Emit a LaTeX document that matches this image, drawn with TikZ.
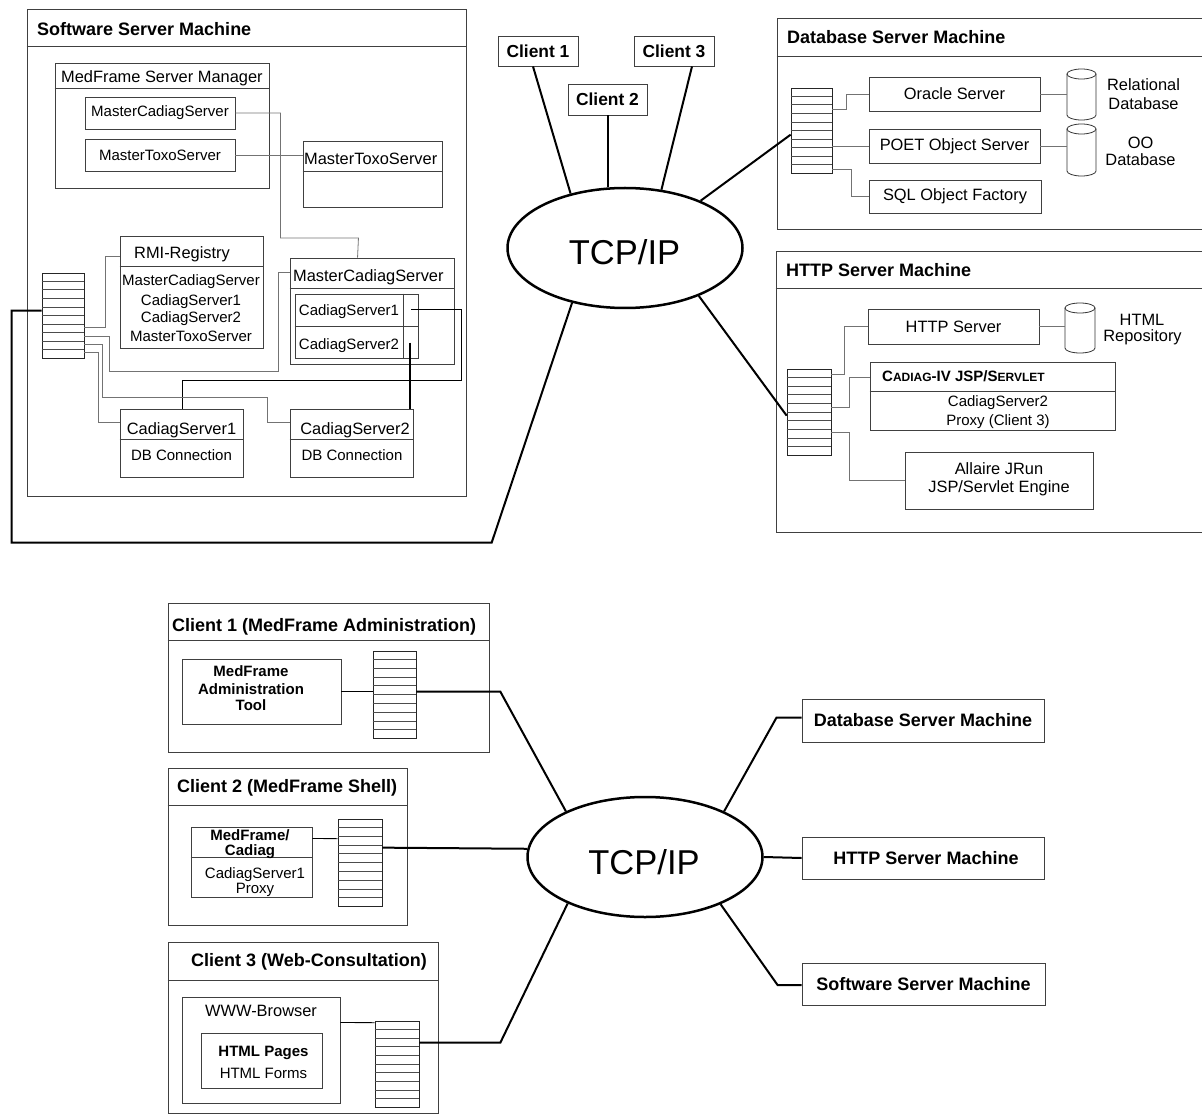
\documentclass[tikz,border=0pt]{standalone}
\usepackage{fontspec}
\setmainfont{Liberation Sans}
\usetikzlibrary{fit,calc,shapes.geometric}
\tikzset{
 bx/.style={draw=black!75, line width=0.9pt, inner sep=0pt},
 bxline/.style={draw=black!75, line width=0.9pt},
 conn/.style={draw=black!55, line width=0.8pt},
 bconn/.style={draw=black, line width=0.8pt},
 thk/.style={draw=black, line width=2pt},
 stkline/.style={draw=black!70, line width=0.6pt},
 cylst/.style={draw=black!80, line width=0.8pt},
 hd/.style={font=\fontsize{18pt}{21pt}\selectfont\bfseries, inner sep=0pt},
 hdc/.style={font=\fontsize{17.4pt}{20pt}\selectfont\bfseries, inner sep=0pt},
 tA/.style={font=\fontsize{16.4pt}{19pt}\selectfont, inner sep=0pt},
 tB/.style={font=\fontsize{15pt}{17.5pt}\selectfont, inner sep=0pt},
 tBb/.style={font=\fontsize{15pt}{17.5pt}\selectfont\bfseries, inner sep=0pt},
 tcpst/.style={draw=black, ellipse, line width=2.5pt, minimum width=235pt, minimum height=120pt, inner sep=0pt},
 tcpfont/.style={font=\fontsize{34.5pt}{40pt}\selectfont, inner sep=0pt},
}
\newcommand\mybox[5][]{\node[bx,fit={#3 #4}] (#2) {};
 \node[inner sep=0pt,#1] (#2-t) at (#2.center) {#5};}
\newcommand\mysep[2]{\draw[bxline] ($(#1.north west)+(0,#2)$) -- ($(#1.north east)+(0,#2)$);}
\newcommand\mystack[3]{%
 \node[bx, draw=black!85, line width=0.7pt, fit={#2 #3}] (#1) {};
 \foreach \nn in {1,...,9}{\draw[stkline] ($(#1.north west)!\nn/10!(#1.south west)$) -- ($(#1.north east)!\nn/10!(#1.south east)$);}
}
\newcommand\mycyl[4]{% x1 x2 ytop ybot
 \draw[cylst] (#1,#3) -- (#1,#4) arc[start angle=180,end angle=360,x radius={(#2-#1)/2*1pt},y radius=5pt] -- (#2,#3);
 \draw[cylst] ({(#1+#2)/2},#3) ellipse[x radius={(#2-#1)/2*1pt},y radius=5pt];
}
\begin{document}
\begin{tikzpicture}[x=1pt,y=-1pt]
\useasboundingbox (0,0) rectangle (1202,1115);

% ================= Software Server Machine =================
\mybox{ssm}{(27,9)}{(466,496)}{}
\mysep{ssm}{38}
\node[hd,anchor=base west] (ssmT) at (37,36) {Software Server Machine};

\mybox{mfsm}{(55,63)}{(269,188)}{}
\mysep{mfsm}{26}
\node[tA,anchor=base west] (mfsmT) at (61,83) {MedFrame Server Manager};
\mybox[tB]{mcsA}{(85,97)}{(235,129)}{MasterCadiagServer}
\mybox[tB]{mtsA}{(85,139)}{(235,171)}{MasterToxoServer}

\mybox{mtsB}{(303,141)}{(442,207)}{}
\mysep{mtsB}{31}
\node[tA,anchor=base west] (mtsBT) at (304,165) {MasterToxoServer};

\mybox{rmi}{(120,236)}{(263,348)}{}
\mysep{rmi}{31}
\node[tA,anchor=base west] (rmiT) at (134,259) {RMI-Registry};
\node[tB,anchor=base] (rmi1) at (191,285.5) {MasterCadiagServer};
\node[tB,anchor=base] (rmi2) at (191,305.5) {CadiagServer1};
\node[tB,anchor=base] (rmi3) at (191,323) {CadiagServer2};
\node[tB,anchor=base] (rmi4) at (191,341.5) {MasterToxoServer};

\mybox{mcb}{(290,258)}{(454,364)}{}
\mysep{mcb}{31}
\node[tA,anchor=base west] (mcbT) at (293,281.5) {MasterCadiagServer};
\mybox{csi}{(295,294)}{(418,358)}{}
\mysep{csi}{33}
\draw[bxline] ($(csi.north east)+(-15,0)$) -- ($(csi.south east)+(-15,0)$);
\node[tB,anchor=base] (csi1) at (349,316) {CadiagServer1};
\node[tB,anchor=base] (csi2) at (349,349) {CadiagServer2};

\mybox{cs1b}{(120,409)}{(243,477)}{}
\mysep{cs1b}{31}
\node[tA,anchor=base] (cs1bT) at (181.5,434.3) {CadiagServer1};
\node[tB,anchor=base] (cs1bD) at (181.5,460.7) {DB Connection};
\mybox{cs2b}{(290,409)}{(413,477)}{}
\mysep{cs2b}{31}
\node[tA,anchor=base] (cs2bT) at (355,434.3) {CadiagServer2};
\node[tB,anchor=base] (cs2bD) at (352,460.7) {DB Connection};

\mystack{ssmstk}{(42,273)}{(84,358)}

\draw[conn] (mcsA.east) -- ++(45,0) -- ++(0,125) -- ++(78,0) -- ($(mcb.north west)+(68,0)$);
\draw[conn] (mtsA.east) -- (mtsA.east -| mtsB.west);
\draw[bconn] ($(csi.north east)+(-7,16)$) -- ++(50,0) -- ++(0,71) -| ($(cs1b.north west)+(63,0)$);
\draw[thk] ($(csi.north east)+(-8,49)$) -- ($(cs2b.north east)+(-3,0)$);
\draw[conn] ($(ssmstk.north east)+(0,55)$) -- ++(21,0) |- ($(rmi.north west)+(0,21)$);
\draw[conn] ($(ssmstk.north east)+(0,64)$) -- ++(25,0) -- ++(0,35) -- ++(169,0) |- ($(mcb.north west)+(0,15)$);
\draw[conn] ($(ssmstk.north east)+(0,72)$) -- ++(18,0) -- ++(0,53) -- ++(165,0) |- ($(cs2b.north west)+(0,14)$);
\draw[conn] ($(ssmstk.north east)+(0,80)$) -- ++(14,0) |- ($(cs1b.north west)+(0,14)$);

% ================= TCP/IP top =================
\node[tcpst] (tcp1) at (625,248) {};
\node[tcpfont,anchor=base] (tcp1T) at (624.5,265) {TCP/IP};
\mybox[hdc]{cA}{(498,36)}{(578,66)}{Client 1}
\mybox[hdc]{cB}{(568,84)}{(647,115)}{Client 2}
\mybox[hdc]{cC}{(634,36)}{(714,66)}{Client 3}
\draw[thk] ($(cA.south)+(-5,0)$) -- (tcp1.135);
\draw[thk] (cB.south) -- (cB.south |- tcp1.north);
\draw[thk] ($(cC.south)+(18,0)$) -- (tcp1.58);
\draw[thk] ($(ssmstk.north west)+(0,38)$) -- ++(-30,0) -- ++(0,232) -- ++(480,0) -- (tcp1.226);

% ================= Database Server Machine =================
\mybox{dbm}{(777,18)}{(1202,229)}{}
\mysep{dbm}{39}
\node[hd,anchor=base west] (dbmT) at (787,43.3) {Database Server Machine};
\mystack{dbstk}{(791,88)}{(832,173)}
\mybox[tA]{ora}{(869,77)}{(1040,111)}{Oracle Server}
\mybox[tA]{poet}{(869,129)}{(1040,163)}{POET Object Server}
\mybox[tA]{sqlf}{(869,180)}{(1041,213)}{SQL Object Factory}
\draw[conn] ($(dbstk.north east)+(0,22)$) -- ++(14,0) |- (ora.west);
\draw[conn] (poet.west -| dbstk.east) -- (poet.west);
\draw[conn] ($(dbstk.north east)+(0,82)$) -- ++(19,0) |- (sqlf.west);
\mycyl{1067}{1096}{74}{115}
\coordinate (relL) at (1067,94);
\mycyl{1067}{1096}{129}{171}
\coordinate (ooL) at (1067,146);
\draw[conn] (ora.east) -- (relL);
\draw[conn] (poet.east) -- (ooL);
\node[tA,anchor=base] (relT1) at (1143.5,90.7) {Relational};
\node[tA,anchor=base] (relT2) at (1143.5,109.3) {Database};
\node[tA,anchor=base] (ooT1) at (1140.5,148.3) {OO};
\node[tA,anchor=base] (ooT2) at (1140.5,166) {Database};
\draw[thk] (tcp1.32) -- ($(dbstk.north west)+(0,47)$);

% ================= HTTP Server Machine =================
\mybox{htm}{(776,251)}{(1202,532)}{}
\mysep{htm}{38}
\node[hd,anchor=base west] (htmT) at (786,276.7) {HTTP Server Machine};
\mystack{httpstk}{(787,369)}{(831,455)}
\mybox[tA]{hsv}{(868,309)}{(1039,344)}{HTTP Server}
\mycyl{1065}{1095}{308}{348}
\coordinate (repL) at (1065,326.5);
\draw[conn] (hsv.east) -- (repL);
\node[tA,anchor=base] (repT1) at (1142,325) {HTML};
\node[tA,anchor=base] (repT2) at (1142.5,341.7) {Repository};
\mybox{cad}{(870,362)}{(1115,430)}{}
\mysep{cad}{30}
\node[anchor=base west,inner sep=0pt,font=\fontsize{15pt}{18pt}\selectfont\bfseries] (cadT) at (882,381)
 {C{\fontsize{12pt}{14pt}\selectfont ADIAG}-IV JSP/S{\fontsize{12pt}{14pt}\selectfont ERVLET}};
\node[tB,anchor=base] (cad1) at (998,406.7) {CadiagServer2};
\node[tB,anchor=base] (cad2) at (998,425) {Proxy (Client 3)};
\mybox{alr}{(905,452)}{(1093,509)}{}
\node[tA,anchor=base] (alr1) at (999,474) {Allaire JRun};
\node[tA,anchor=base] (alr2) at (999,492.3) {JSP/Servlet Engine};
\draw[conn] ($(httpstk.north east)+(0,6)$) -- ++(13,0) |- (hsv.west);
\draw[conn] ($(httpstk.north east)+(0,39)$) -- ++(18,0) |- ($(cad.north west)+(0,16)$);
\draw[conn] ($(httpstk.north east)+(0,64)$) -- ++(18,0) |- (alr.west);
\draw[thk] (tcp1.-33) -- ($(httpstk.north west)+(0,47)$);

% ================= Bottom: clients =================
\mybox{cl1}{(168,603)}{(489,752)}{}
\mysep{cl1}{38}
\node[hd,anchor=base west] (cl1T) at (172,631.7) {Client 1 (MedFrame Administration)};
\mybox{tool}{(182,659)}{(341,724)}{}
\node[tBb,anchor=base] (tool1) at (251,676) {MedFrame};
\node[tBb,anchor=base] (tool2) at (251,694) {Administration};
\node[tBb,anchor=base] (tool3) at (251,710.5) {Tool};
\mystack{cl1stk}{(373,651)}{(416,738)}
\draw[bconn] (tool.east) -- (tool.east -| cl1stk.west);

\mybox{cl2}{(168,768)}{(407,925)}{}
\mysep{cl2}{38}
\node[hd,anchor=base west] (cl2T) at (177,792.7) {Client 2 (MedFrame Shell)};
\mybox{mfc}{(191,827)}{(312,897)}{}
\mysep{mfc}{31}
\node[tBb,anchor=base] (mfc1) at (250,840) {MedFrame/};
\node[tBb,anchor=base] (mfc2) at (250,855.5) {Cadiag};
\node[tB,anchor=base] (mfc3) at (255,878) {CadiagServer1};
\node[tB,anchor=base] (mfc4) at (255,893) {Proxy};
\mystack{cl2stk}{(338,819)}{(382,906)}
\draw[bconn] ($(mfc.north east)+(0,12)$) -- ($(cl2stk.north west)+(0,20)$);

\mybox{cl3}{(168,942)}{(438,1113)}{}
\mysep{cl3}{39}
\node[hd,anchor=base west] (cl3T) at (191,966.7) {Client 3 (Web-Consultation)};
\mybox{www}{(182,997)}{(340,1103)}{}
\node[tA,anchor=base] (wwwT) at (261,1016.7) {WWW-Browser};
\mybox{html}{(201,1033)}{(322,1088)}{}
\node[tBb,anchor=base] (html1) at (263.5,1056.7) {HTML Pages};
\node[tB,anchor=base] (html2) at (263.5,1078.3) {HTML Forms};
\mystack{cl3stk}{(375,1021)}{(419,1107)}
\draw[bconn] ($(www.north east)+(0,26)$) -- ($(cl3stk.north west)+(0,2)$);

% ================= TCP/IP bottom =================
\node[tcpst] (tcp2) at (645,857) {};
\node[tcpfont,anchor=base] (tcp2T) at (644,874) {TCP/IP};
\draw[thk] ($(cl1stk.north east)+(0,41)$) -- ++(84,0) -- (tcp2.150);
\draw[thk] ($(cl2stk.north east)+(0,29)$) -- (tcp2.176);
\draw[thk] ($(cl3stk.north east)+(0,22)$) -- ++(81,0) -- (tcp2.211);

\mybox[hd]{dbb}{(802,699)}{(1044,742)}{Database Server Machine}
\mybox[hd]{httpb}{(802,837)}{(1044,879)}{\hspace*{6pt}HTTP Server Machine}
\mybox[hd]{swb}{(802,963)}{(1045,1005)}{Software Server Machine}
\draw[thk] (tcp2.30) -- ($(dbb.west)+(-25,-3)$) -- ($(dbb.west)+(0,-3)$);
\draw[thk] (tcp2.east) -- (httpb.west);
\draw[thk] (tcp2.-32) -- ($(swb.west)+(-24,1)$) -- ($(swb.west)+(0,1)$);
\end{tikzpicture}
\end{document}
